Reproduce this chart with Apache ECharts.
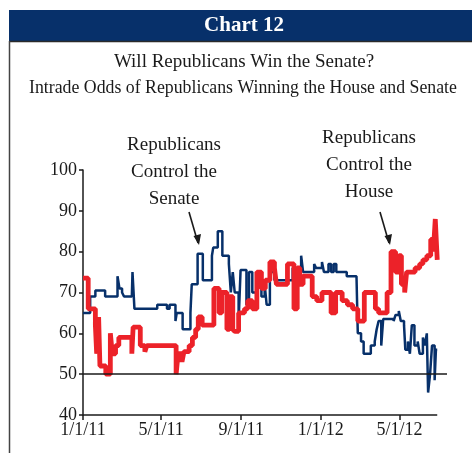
<!DOCTYPE html>
<html>
<head>
<meta charset="utf-8">
<script src="https://cdn.jsdelivr.net/npm/echarts@6/dist/echarts.min.js"></script>
<style>
  html, body { margin: 0; padding: 0; background: #ffffff; }
  #chart { width: 472px; height: 453px; }
</style>
</head>
<body>
<div id="chart"></div>
<script>
// Intrade odds (%) of Republicans taking the Senate, step changes by date
const senateDates = [
  '2011-01-01','2011-01-12','2011-01-20','2011-02-04','2011-02-23','2011-02-26','2011-03-02','2011-03-05',
  '2011-03-17','2011-03-18','2011-03-21','2011-04-25','2011-05-10','2011-05-14','2011-05-23','2011-05-25',
  '2011-06-03','2011-06-15','2011-06-17','2011-06-26','2011-07-04','2011-07-18','2011-07-20','2011-07-27',
  '2011-08-03','2011-08-13','2011-08-16','2011-08-19','2011-08-22','2011-08-28','2011-08-31','2011-09-09',
  '2011-09-13','2011-09-18','2011-09-26','2011-10-02','2011-10-07','2011-10-10','2011-10-15','2011-10-22',
  '2011-11-19','2011-11-24','2011-12-02','2011-12-05','2011-12-22','2011-12-25','2012-01-03','2012-01-06',
  '2012-01-13','2012-01-17','2012-01-21','2012-01-25','2012-02-10','2012-02-25','2012-02-27','2012-03-03',
  '2012-03-07','2012-03-18','2012-03-24','2012-03-27','2012-03-30','2012-04-03','2012-04-06','2012-04-22',
  '2012-04-25','2012-04-30','2012-05-03','2012-05-08','2012-05-10','2012-05-14','2012-05-17','2012-05-20',
  '2012-05-24','2012-05-29','2012-06-01','2012-06-06','2012-06-09','2012-06-12','2012-06-14','2012-06-17',
  '2012-06-20','2012-06-24','2012-06-26','2012-06-28'
];
const senateOdds = [
  65, 69, 70.5, 69, 74, 71, 70, 69,
  69, 75, 66, 67, 66, 67, 63, 65,
  61, 65, 72, 79.5, 73, 79, 81, 85,
  79, 77, 70, 75, 70, 63, 75.5, 67,
  75, 70, 73, 69, 72, 67, 75, 73,
  76, 75, 79, 75, 77, 76, 77.5, 75,
  77, 75, 77, 75, 74, 74, 60, 58,
  55, 57, 58, 61, 63, 57, 63.5, 63,
  64.5, 65.5, 63, 62, 56, 58, 55, 62,
  57, 58, 55, 59, 57, 60, 45.5, 50,
  57, 48.5, 56, 56
];

// Intrade odds (%) of Republicans keeping the House
const houseDates = [
  '2011-01-01','2011-01-09','2011-01-20','2011-01-22','2011-01-25','2011-01-27','2011-02-05','2011-02-12',
  '2011-02-15','2011-02-20','2011-02-25','2011-03-17','2011-03-19','2011-03-30','2011-04-06','2011-04-09',
  '2011-05-24','2011-05-27','2011-06-02','2011-06-05','2011-06-13','2011-06-18','2011-06-23','2011-06-27',
  '2011-07-03','2011-07-21','2011-07-29','2011-08-02','2011-08-10','2011-08-14','2011-08-19','2011-08-22',
  '2011-08-28','2011-09-06','2011-09-11','2011-09-18','2011-09-25','2011-10-02','2011-10-08','2011-10-15',
  '2011-10-22','2011-10-25','2011-11-11','2011-11-21','2011-11-26','2011-11-30','2011-12-05','2011-12-19',
  '2011-12-26','2012-01-03','2012-01-17','2012-01-24','2012-02-03','2012-02-11','2012-02-19','2012-02-27',
  '2012-03-08','2012-03-25','2012-03-30','2012-04-12','2012-04-18','2012-04-25','2012-04-30','2012-05-04',
  '2012-05-09','2012-05-12','2012-05-25','2012-06-01','2012-06-06','2012-06-12','2012-06-18','2012-06-22',
  '2012-06-25','2012-06-28'
];
const houseOdds = [
  73.5, 66, 62, 55, 64, 52, 50, 60,
  55, 57, 59, 55, 61.5, 57, 55.5, 57,
  50, 55, 53, 55.5, 57, 59, 61, 64,
  62, 71, 65, 70, 61, 69, 61, 60.5,
  65, 66, 68, 66, 75, 71, 73, 77.5,
  76, 72, 77, 66, 76, 72, 74, 69,
  68, 70, 65, 70, 68, 67, 66, 63,
  70, 66, 65, 70, 80, 75, 79, 72,
  70, 75, 76, 77, 78, 79, 83, 80,
  88, 78
];

const xTickDates = ['2011-01-01', '2011-05-01', '2011-09-01', '2012-01-01', '2012-05-01'];
const axisStart = '2011-01-01';
const dataEnd = '2012-06-28';
const axisEnd = '2012-07-13';
const evenOddsLevel = 50;

// the x axis counts days from axisStart
const DAY = 86400000;
const utc = s => { const [y, m, d] = s.split('-').map(Number); return Date.UTC(y, m - 1, d); };
const dayOf = s => Math.round((utc(s) - utc(axisStart)) / DAY);
const pairs = (dates, vals) => dates.map((d, i) => [dayOf(d), vals[i]]);
const fmtDay = v => {
  const d = new Date(utc(axisStart) + Math.round(v) * DAY);
  return (d.getUTCMonth() + 1) + '/' + d.getUTCDate() + '/' + String(d.getUTCFullYear()).slice(2);
};

const SERIF = '"Liberation Serif", "DejaVu Serif", serif';
const NAVY = '#07306a';
const RED = '#ec2229';
const INK = '#1a1a1a';
const tickDays = xTickDates.map(dayOf);

const chart = echarts.init(document.getElementById('chart'), null, { renderer: 'canvas' });

chart.setOption({
  animation: false,
  backgroundColor: '#ffffff',
  grid: { left: 83, right: 25, top: 170, bottom: 38, containLabel: false },
  xAxis: {
    type: 'value',
    min: 0,
    max: dayOf(axisEnd),
    axisLine: { show: false },
    axisTick: {
      show: true, inside: false, length: 5,
      customValues: tickDays,
      lineStyle: { color: INK, width: 1.5 }
    },
    axisLabel: {
      customValues: tickDays,
      formatter: fmtDay,
      color: INK, fontFamily: SERIF, fontSize: 18, margin: 6,
      showMinLabel: true, showMaxLabel: true, hideOverlap: false
    },
    splitLine: { show: false }
  },
  yAxis: {
    type: 'value',
    min: 40, max: 100, interval: 10,
    axisLine: { show: true, lineStyle: { color: INK, width: 1.5 } },
    axisTick: { show: true, inside: false, length: 4, lineStyle: { color: INK, width: 1.5 } },
    axisLabel: { color: INK, fontFamily: SERIF, fontSize: 18, margin: 6 },
    splitLine: { show: false }
  },
  series: [
    {
      name: 'Senate',
      type: 'line',
      step: 'end',
      showSymbol: false,
      data: pairs(senateDates, senateOdds),
      lineStyle: { color: NAVY, width: 2.5 },
      z: 3,
      markLine: {
        silent: true,
        symbol: 'none',
        label: { show: false },
        lineStyle: { color: INK, width: 1.5, type: 'solid' },
        data: [
          [ { coord: [0, evenOddsLevel] }, { coord: [dayOf(axisEnd), evenOddsLevel] } ],
          [ { coord: [0, 40] }, { coord: [dayOf(dataEnd), 40] } ]
        ]
      }
    },
    {
      name: 'House',
      type: 'line',
      step: 'end',
      showSymbol: false,
      data: pairs(houseDates, houseOdds),
      lineStyle: { color: RED, width: 4.8 },
      z: 4
    }
  ],
  graphic: [
    // header band
    { type: 'rect', shape: { x: 9, y: 10, width: 463, height: 31 }, style: { fill: NAVY }, z: 1 },
    { type: 'line', shape: { x1: 9, y1: 41.5, x2: 472, y2: 41.5 }, style: { stroke: '#2a2a2a', lineWidth: 1.5 }, z: 1 },
    { type: 'line', shape: { x1: 9.5, y1: 41, x2: 9.5, y2: 453 }, style: { stroke: '#444444', lineWidth: 1.5 }, z: 1 },
    { type: 'text', x: 244, y: 26, style: { text: 'Chart 12', fill: '#ffffff', font: 'bold 21px ' + SERIF, textAlign: 'center', textVerticalAlign: 'middle' }, z: 2 },
    { type: 'text', x: 244, y: 62, style: { text: 'Will Republicans Win the Senate?', fill: INK, font: '19px ' + SERIF, textAlign: 'center', textVerticalAlign: 'middle' }, z: 2 },
    { type: 'text', x: 243, y: 88, style: { text: 'Intrade Odds of Republicans Winning the House and Senate', fill: INK, font: '17.8px ' + SERIF, textAlign: 'center', textVerticalAlign: 'middle' }, z: 2 },
    // callouts
    { type: 'text', x: 174, y: 172, style: { text: 'Republicans\nControl the\nSenate', fill: INK, font: '19px ' + SERIF, lineHeight: 27, textAlign: 'center', textVerticalAlign: 'middle' }, z: 2 },
    { type: 'line', shape: { x1: 189, y1: 212, x2: 198, y2: 243 }, style: { stroke: INK, lineWidth: 1.6 }, z: 2 },
    { type: 'polygon', shape: { points: [[199, 245], [193.5, 236], [201, 234]] }, style: { fill: INK }, z: 2 },
    { type: 'text', x: 369, y: 165, style: { text: 'Republicans\nControl the\nHouse', fill: INK, font: '19px ' + SERIF, lineHeight: 27, textAlign: 'center', textVerticalAlign: 'middle' }, z: 2 },
    { type: 'line', shape: { x1: 380, y1: 212, x2: 389, y2: 243 }, style: { stroke: INK, lineWidth: 1.6 }, z: 2 },
    { type: 'polygon', shape: { points: [[390, 245], [384.5, 236], [392, 234]] }, style: { fill: INK }, z: 2 }
  ]
});
</script>
</body>
</html>
